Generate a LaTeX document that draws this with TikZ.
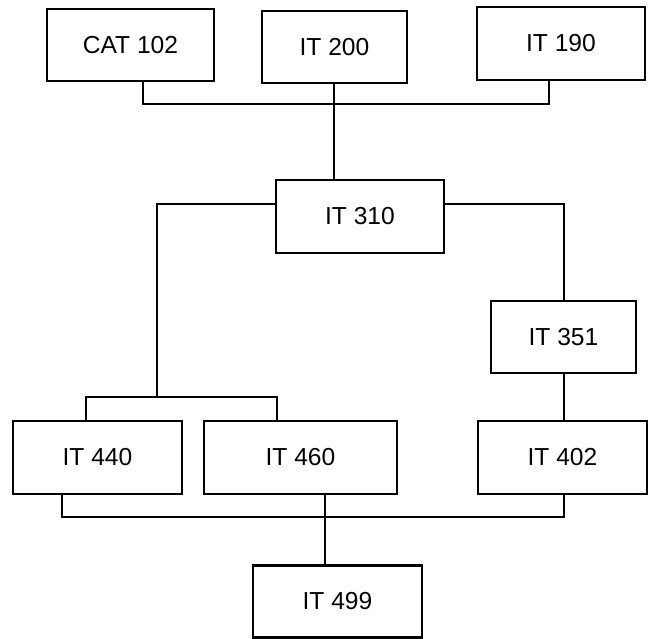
\documentclass[tikz,border=0pt]{standalone}
\usepackage{fontspec}
\setmainfont{Liberation Sans}
\begin{document}
\begin{tikzpicture}[x=0.02cm, y=-0.02cm,
  course/.style={draw, line width=1.2pt, inner sep=0pt, font=\fontsize{14}{16}\selectfont},
  link/.style={line width=0.9pt}]
% Set the picture size (one unit is one pixel of the drawing)
\useasboundingbox (0,0) rectangle (650,639);

% Draw the course boxes
\node[course, minimum width=3.34cm, minimum height=1.44cm] (cat102) at (130.5,45) {CAT 102};
\node[course, minimum width=2.90cm, minimum height=1.44cm] (it200) at (334.5,47) {IT 200};
\node[course, minimum width=3.36cm, minimum height=1.46cm] (it190) at (561,43.5) {IT 190};
\node[course, minimum width=3.36cm, minimum height=1.46cm] (it310) at (360,216.5) {IT 310};
\node[course, minimum width=2.90cm, minimum height=1.44cm] (it351) at (563.5,337) {IT 351};
\node[course, minimum width=3.38cm, minimum height=1.46cm] (it440) at (97.5,457.5) {IT 440};
\node[course, minimum width=3.86cm, minimum height=1.46cm] (it460) at (300.5,457.5) {IT 460};
\node[course, minimum width=3.38cm, minimum height=1.46cm] (it402) at (562.5,457.5) {IT 402};
\node[course, minimum width=3.38cm, minimum height=1.44cm] (it499) at (337.5,601.5) {IT 499};

% Junctions of the connectors
\coordinate (jtop) at (334,104);
\coordinate (jleft) at (157,397);
\coordinate (jbot) at (325,517);

% Draw the connectors
\draw[link] (cat102.south -| 143,0) |- (jtop);
\draw[link] (it190.south -| 549,0) |- (jtop);
\draw[link] (it200.south -| jtop) -- (it310.north -| jtop);
\draw[link] (it310.west |- 0,204) -| (jleft);
\draw[link] (it440.north -| 86,0) |- (jleft);
\draw[link] (it460.north -| 277,0) |- (jleft);
\draw[link] (it310.east |- 0,204) -| (it351.north -| 564,0);
\draw[link] (it351.south -| 564,0) -- (it402.north -| 564,0);
\draw[link] (it440.south -| 62,0) |- (jbot);
\draw[link] (it402.south -| 564,0) |- (jbot);
\draw[link] (it460.south -| jbot) -- (it499.north -| jbot);
\end{tikzpicture}
\end{document}
